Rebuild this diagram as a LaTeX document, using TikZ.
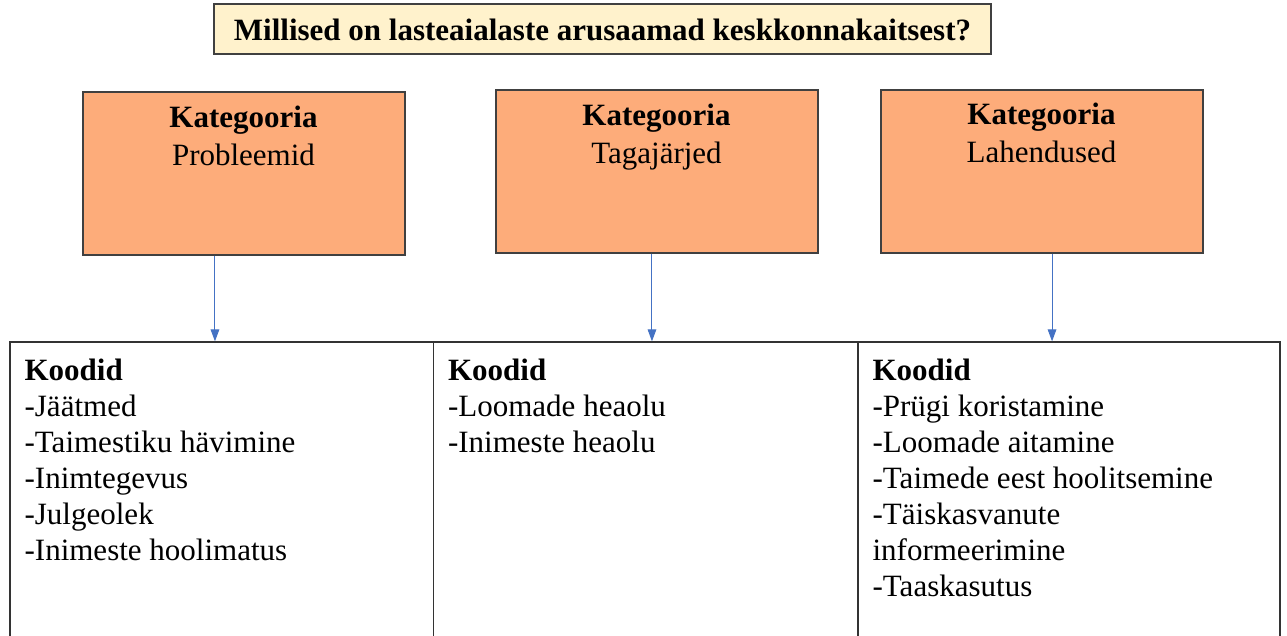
\documentclass[tikz,border=0pt]{standalone}
\usepackage{fontspec}
\setmainfont{Liberation Serif}
\usetikzlibrary{arrows.meta,positioning}
\definecolor{titleyellow}{RGB}{255,242,204}
\definecolor{catorange}{RGB}{253,172,122}
\definecolor{arrowblue}{RGB}{68,114,196}
\begin{document}
\begin{tikzpicture}[x=0.75pt, y=-0.75pt,
    title/.style = {draw=black!75, line width=1.5pt, fill=titleyellow, minimum width=582.75pt, minimum height=37.5pt, inner sep=0pt, font=\fontsize{23.25pt}{27pt}\selectfont\bfseries},
    cat/.style = {draw=black!75, line width=1.5pt, fill=catorange, minimum width=241.5pt, minimum height=122.25pt, inner sep=0pt},
    cattext/.style = {align=center, inner sep=0pt, anchor=north, font=\fontsize{23.25pt}{28.5pt}\selectfont},
    cell/.style = {draw=black!80, line width=1pt, minimum height=238.5pt, inner sep=0pt},
    codes/.style = {align=left, inner sep=0pt, anchor=north west, font=\fontsize{23.25pt}{27pt}\selectfont},
    link/.style = {draw=arrowblue, line width=0.75pt, -{Triangle[length=9pt, width=6.5pt]}}]
    \useasboundingbox (0,0) rectangle (1287,635);
    \node[title] (q) at (602.5,29.5) {Millised on lasteaialaste arusaamad keskkonnakaitsest?};
    \node[cat] (k1) at (243.5,173) {};
    \node[cat] (k2) at (656.5,171) {};
    \node[cat] (k3) at (1041.5,171) {};
    \node[cattext] (t1) [below=11.25pt of k1.north] {\textbf{Kategooria}\\Probleemid};
    \node[cattext] (t2) [below=11.25pt of k2.north] {\textbf{Kategooria}\\Tagajärjed};
    \node[cattext] (t3) [below=10.5pt of k3.north] {\textbf{Kategooria}\\Lahendused};
    \node[cell, minimum width=317.6pt] (c1) at (221.75,501) {};
    \node[cell, minimum width=318.4pt] (c2) at (645.75,501) {};
    \node[cell, minimum width=316.5pt] (c3) at (1069,501) {};
    \node[codes] (l1) at ([xshift=11.25pt, yshift=-12.75pt]c1.north west) {\textbf{Koodid}\\-Jäätmed\\-Taimestiku hävimine\\-Inimtegevus\\-Julgeolek\\-Inimeste hoolimatus};
    \node[codes] (l2) at ([xshift=11.25pt, yshift=-12.75pt]c2.north west) {\textbf{Koodid}\\-Loomade heaolu\\-Inimeste heaolu};
    \node[codes] (l3) at ([xshift=11.25pt, yshift=-12.75pt]c3.north west) {\textbf{Koodid}\\-Prügi koristamine\\-Loomade aitamine\\-Taimede eest hoolitsemine\\-Täiskasvanute\\informeerimine\\-Taaskasutus};
    \draw[link] ([xshift=-21.4pt]k1.south) -- ([xshift=-21.4pt]k1.south |- c1.north);
    \draw[link] ([xshift=-3.4pt]k2.south) -- ([xshift=-3.4pt]k2.south |- c2.north);
    \draw[link] ([xshift=7.9pt]k3.south) -- ([xshift=7.9pt]k3.south |- c3.north);
\end{tikzpicture}
\end{document}
